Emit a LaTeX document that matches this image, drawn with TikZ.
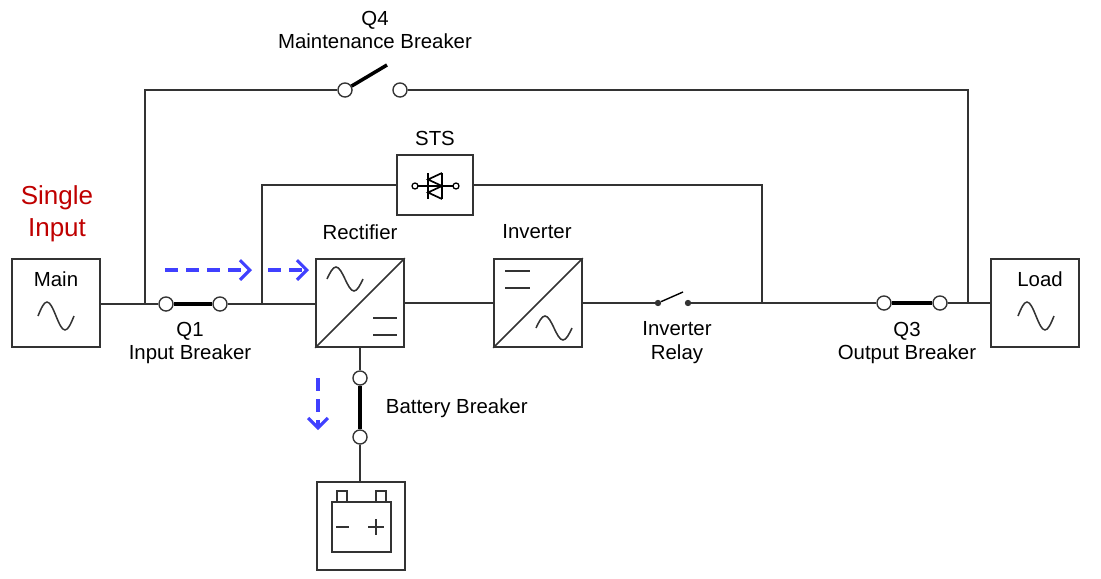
\documentclass[tikz,border=0pt]{standalone}
\usepackage{fontspec}
\setmainfont{Liberation Sans}
\usetikzlibrary{arrows.meta,positioning}

\begin{document}
\begin{tikzpicture}[
    x=0.025cm, y=-0.025cm,
    >=Latex,
    wire/.style={line width=1.1pt, black!80},
    box/.style={draw=black!80, line width=1.1pt, minimum width=2.2cm, minimum height=2.2cm, inner sep=0pt},
    term/.style={circle, draw=black!80, fill=white, line width=1pt, minimum size=10pt, inner sep=0pt},
    bar/.style={line width=3.5pt},
    flow/.style={draw=blue!75, line width=2.2pt, dash pattern=on 9pt off 6pt, -{Straight Barb[length=7pt,width=14pt,line width=2.2pt]}},
    lbl/.style={font=\fontsize{14.5}{17}\selectfont, align=center},
]
    \useasboundingbox (0,0) rectangle (1101,579);

    % --- 方塊 ---
    \node[box] (main) at (56,303) {};
    \node[box] (rect) at (360,303) {};
    \node[box] (inv) at (538,303) {};
    \node[box] (load) at (1035,303) {};
    \node[box, minimum width=1.9cm, minimum height=1.5cm] (sts) at (435,185) {};
    \node[box] (batt) at (361,526) {};

    % --- 標籤 ---
    \node[lbl, text=red!75!black, font=\fontsize{18.5}{23}\selectfont] (single) at (57,214) {Single\\Input};
    \node[lbl] (mainlbl) at (56,279) {Main};
    \node[lbl] (loadlbl) at (1040,279) {Load};
    \node[lbl] (q4lbl) at (375,30) {Q4\\Maintenance Breaker};
    \node[lbl] (stslbl) at (435,138) {STS};
    \node[lbl] (rectlbl) at (360,232) {Rectifier};
    \node[lbl] (invlbl) at (537,232) {Inverter};
    \node[lbl] (q1lbl) at (190,343) {Q1\\Input Breaker};
    \node[lbl] (rellbl) at (677,343) {Inverter\\Relay};
    \node[lbl] (q3lbl) at (907,343) {Q3\\Output Breaker};
    \node[lbl, anchor=west] (bblbl) at (381,408) {Battery Breaker};

    % --- 波形與符號 ---
    \draw[wire] (38,316) sin (47,302) cos (56,316) sin (65,330) cos (74,316);
    \draw[wire] (1018,316) sin (1027,302) cos (1036,316) sin (1045,330) cos (1054,316);
    \draw[wire] (rect.south west) -- (rect.north east);
    \draw[wire] (327,279) sin (336,267) cos (345,279) sin (354,291) cos (363,279);
    \draw[wire] (373,318) -- (397,318) (373,335) -- (397,335);
    \draw[wire] (inv.south west) -- (inv.north east);
    \draw[wire] (505,271) -- (530,271) (505,288) -- (530,288);
    \draw[wire] (536,328) sin (545,316) cos (554,328) sin (563,340) cos (572,328);
    % STS 閘流體
    \draw[line width=0.9pt] (415,186) circle (3) (456,186) circle (3);
    \draw[line width=0.9pt] (418,186) -- (453,186);
    \draw[line width=1.2pt] (428,173) -- (428,199) (442,173) -- (442,199);
    \draw[line width=1.2pt] (442,173) -- (428,179.5) -- (442,186) -- (428,192.5) -- (442,199);
    % 電池
    \draw[wire] (332,502) rectangle (391,552);
    \draw[wire] (337,502) rectangle (347,491) (376,502) rectangle (386,491);
    \draw[wire] (336,527) -- (349,527) (368,527) -- (384,527) (376,519) -- (376,535);

    % --- 端點 ---
    \node[term] (q1a) at (166,304) {};
    \node[term] (q1b) at (220,304) {};
    \node[term] (q3a) at (884,303) {};
    \node[term] (q3b) at (940,303) {};
    \node[term] (bba) at (360,378) {};
    \node[term] (bbb) at (360,437) {};
    \node[term] (q4a) at (345,90) {};
    \node[term] (q4b) at (400,90) {};
    \coordinate (q4arm) at (387,65);
    \node[circle, fill=black!80, inner sep=1.6pt] (rla) at (658,303) {};
    \node[circle, fill=black!80, inner sep=1.6pt] (rlb) at (688,303) {};
    \coordinate (rlarm) at (683,292);
    \coordinate (byl) at (145,304);
    \coordinate (byr) at (968,303);
    \coordinate (stsl) at (262,304);
    \coordinate (stsr) at (762,303);

    % --- 接線 ---
    \draw[wire] (main.east |- q1a) -- (q1a);
    \draw[bar] (q1a) -- (q1b);
    \draw[wire] (q1b) -- (rect.west |- q1b);
    \draw[wire] (byl) |- (q4a);
    \draw[bar, line width=2.5pt] (q4a) -- (q4arm);
    \draw[wire] (q4b) -| (byr) -- (load.west |- byr);
    \draw[wire] (stsl) |- (sts.west);
    \draw[wire] (sts.east) -| (stsr);
    \draw[wire] (rect.east) -- (inv.west);
    \draw[wire] (inv.east) -- (rla);
    \draw[line width=1pt] (rla) -- (rlarm);
    \draw[wire] (rlb) -- (q3a);
    \draw[bar] (q3a) -- (q3b);
    \draw[wire] (q3b) -- (byr);
    \draw[wire] (rect.south -| bba) -- (bba);
    \draw[bar] (bba) -- (bbb);
    \draw[wire] (bbb) -- (batt.north -| bbb);

    % --- 能量流向 ---
    \draw[flow] (165,270) -- (252,270);
    \draw[flow] (268,270) -- (309,270);
    \draw[flow] (318,378) -- (318,430);
\end{tikzpicture}
\end{document}
